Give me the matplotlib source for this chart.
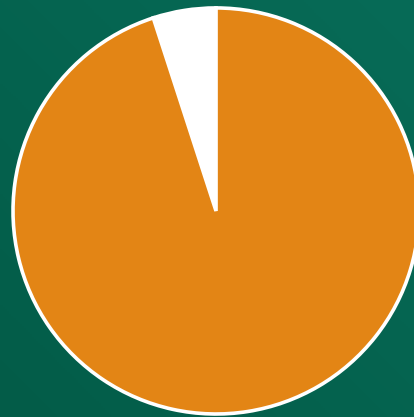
import numpy as np
import matplotlib
matplotlib.use("Agg")
import matplotlib.pyplot as plt

labels = ["Autres", "Principal"]
values = [5, 95]
colors = ["#ffffff", "#e38515"]

fig = plt.figure(figsize=(4.1405, 4.1705), dpi=100)
fig.patch.set_facecolor("#04624d")

# fond légèrement dégradé
bg = fig.add_axes([0, 0, 1, 1])
g = np.linspace(0, 1, 200)
grad = (g[None, :] + g[::-1, None]) / 2
bg.imshow(grad, cmap=matplotlib.colors.LinearSegmentedColormap.from_list(
    "vert", ["#035c48", "#076b57"]), aspect="auto", extent=[0, 1, 0, 1])
bg.axis("off")

ax = fig.add_axes([216/414 - 203/414, 206/417 - 203/417, 406/414, 406/417])
ax.pie(values, colors=colors, startangle=90, counterclock=True, radius=1.0,
       wedgeprops=dict(edgecolor="white", linewidth=2.6))
ax.set_xlim(-1, 1)
ax.set_ylim(-1, 1)
ax.set_aspect("equal")
ax.axis("off")
for p in ax.patches:
    p.set_clip_on(False)

fig.savefig("out.png", dpi=100, facecolor=fig.get_facecolor())
